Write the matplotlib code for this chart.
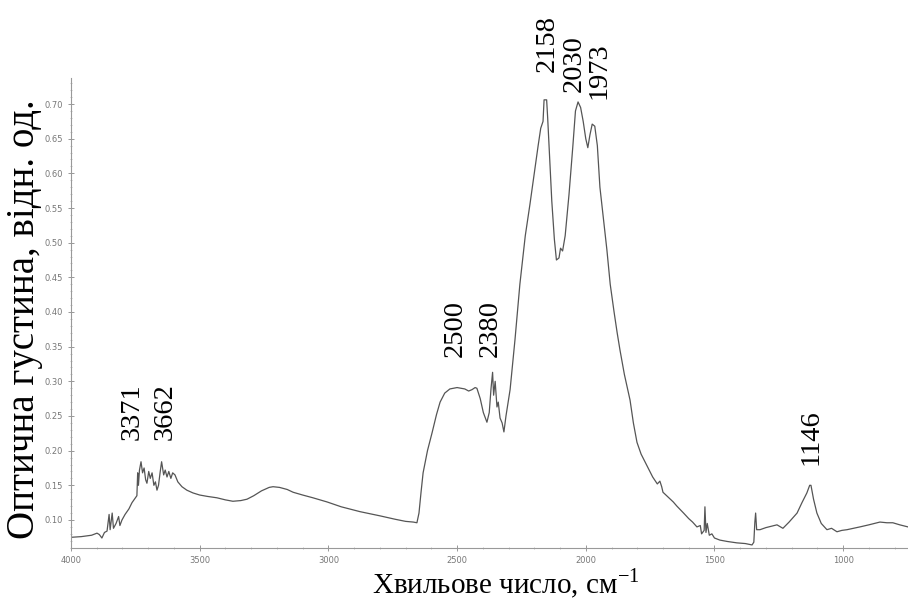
import matplotlib
matplotlib.use("Agg")
import matplotlib.pyplot as plt
from matplotlib.ticker import MultipleLocator, FormatStrFormatter

plt.rcParams["mathtext.fontset"] = "custom"
plt.rcParams["mathtext.rm"] = "Liberation Serif"

# IR spectrum
wavenumber = [
    4000, 3960, 3920, 3899, 3890, 3880, 3870, 3860, 3852, 3848, 3840, 3835,
    3825, 3815, 3810, 3802, 3790, 3775, 3763, 3750, 3744, 3741, 3738, 3734,
    3728, 3722, 3716, 3710, 3705, 3698, 3692, 3685, 3678, 3672, 3666, 3660,
    3654, 3648, 3640, 3634, 3627, 3620, 3612, 3605, 3596, 3585, 3569, 3550,
    3526, 3500, 3470, 3433, 3400, 3371, 3340, 3316, 3290, 3260, 3230, 3215,
    3190, 3160, 3137, 3100, 3060, 3005, 2950, 2877, 2800, 2740, 2700, 2670,
    2656, 2648, 2640, 2632, 2615, 2597, 2580, 2566, 2548, 2528, 2500, 2470,
    2455, 2442, 2430, 2423, 2410, 2398, 2384, 2375, 2368, 2362, 2358, 2352,
    2345, 2340, 2333, 2325, 2318, 2310, 2294, 2275, 2256, 2235, 2217, 2200,
    2185, 2175, 2166, 2162, 2152, 2148, 2140, 2132, 2122, 2114, 2104, 2098,
    2090, 2080, 2065, 2050, 2040, 2030, 2020, 2010, 2000, 1992, 1984, 1975,
    1965, 1955, 1945, 1930, 1918, 1905, 1890, 1878, 1867, 1850, 1828, 1815,
    1801, 1785, 1762, 1740, 1722, 1712, 1705, 1700, 1680, 1660, 1646, 1620, 1600,
    1585, 1568, 1555, 1550, 1540, 1537, 1533, 1528, 1520, 1510, 1500, 1479,
    1450, 1413, 1380, 1354, 1347, 1343, 1340, 1336, 1323, 1300, 1257, 1234,
    1210, 1179, 1160, 1141, 1130, 1125, 1115, 1102, 1085, 1063, 1045, 1024,
    1005, 985, 960, 935, 900, 857, 830, 807, 780, 748,
]
absorbance = [
    0.075, 0.076, 0.078, 0.081, 0.079, 0.074, 0.082, 0.084, 0.108, 0.086, 0.110, 0.088,
    0.095, 0.105, 0.092, 0.100, 0.108, 0.116, 0.125, 0.132, 0.135, 0.168, 0.150, 0.172,
    0.184, 0.168, 0.175, 0.158, 0.153, 0.170, 0.160, 0.168, 0.150, 0.155, 0.143, 0.150,
    0.168, 0.184, 0.165, 0.172, 0.162, 0.170, 0.160, 0.168, 0.165, 0.155, 0.148, 0.143,
    0.139, 0.136, 0.134, 0.132, 0.129, 0.127, 0.128, 0.130, 0.135, 0.142, 0.147, 0.148,
    0.147, 0.144, 0.140, 0.136, 0.132, 0.126, 0.119, 0.112, 0.106, 0.101, 0.098, 0.097,
    0.096, 0.110, 0.140, 0.168, 0.200, 0.226, 0.252, 0.270, 0.283, 0.289, 0.291, 0.289,
    0.286, 0.288, 0.291, 0.290, 0.275, 0.255, 0.241, 0.255, 0.290, 0.313, 0.280, 0.300,
    0.263, 0.270, 0.247, 0.240, 0.227, 0.250, 0.288, 0.360, 0.440, 0.510, 0.555, 0.600,
    0.640, 0.665, 0.675, 0.706, 0.706, 0.680, 0.620, 0.560, 0.505, 0.475, 0.478, 0.492,
    0.488, 0.510, 0.570, 0.640, 0.690, 0.703, 0.695, 0.675, 0.650, 0.637, 0.655, 0.671,
    0.668, 0.640, 0.580, 0.530, 0.490, 0.440, 0.400, 0.370, 0.345, 0.310, 0.273, 0.240,
    0.212, 0.195, 0.178, 0.162, 0.152, 0.156, 0.148, 0.140, 0.133, 0.126, 0.120, 0.110, 0.102,
    0.097, 0.090, 0.092, 0.080, 0.085, 0.119, 0.082, 0.095, 0.078, 0.080, 0.074, 0.071,
    0.069, 0.067, 0.066, 0.064, 0.068, 0.097, 0.110, 0.086, 0.086, 0.089, 0.093, 0.088,
    0.097, 0.110, 0.125, 0.139, 0.150, 0.150, 0.130, 0.110, 0.095, 0.086, 0.088, 0.083,
    0.085, 0.086, 0.088, 0.090, 0.093, 0.097, 0.096, 0.096, 0.093, 0.090,
]

peak_labels = ["3371", "3662", "2500", "2380", "2158", "2030", "1973", "1146"]
peak_pos = [(3763, 0.215), (3635, 0.215), (2508, 0.335), (2372, 0.335),
            (2151, 0.746), (2046, 0.717), (1948, 0.707), (1125, 0.179)]

fig = plt.figure(figsize=(9.08, 6.01), dpi=100)
ax = fig.add_axes([0.0782, 0.0882, 0.9218, 0.782])

ax.plot(wavenumber, absorbance, color="#555555", linewidth=0.9)

ax.set_xlim(4000, 748)
ax.set_ylim(0.0596, 0.7375)

ax.xaxis.set_major_locator(MultipleLocator(500))
ax.xaxis.set_minor_locator(MultipleLocator(100))
ax.yaxis.set_major_locator(MultipleLocator(0.05))
ax.yaxis.set_minor_locator(MultipleLocator(0.01))
ax.yaxis.set_major_formatter(FormatStrFormatter("%.2f"))
ax.xaxis.set_major_formatter(FormatStrFormatter("%d"))

ax.spines["top"].set_visible(False)
ax.spines["right"].set_visible(False)
for s in ["left", "bottom"]:
    ax.spines[s].set_color("#999999")
    ax.spines[s].set_linewidth(0.8)
ax.tick_params(which="major", direction="inout", length=4, width=0.6,
               color="#888888", labelsize=6, labelcolor="#777777")
ax.tick_params(which="minor", direction="inout", length=2, width=0.5, color="#aaaaaa")

for txt, (px, py) in zip(peak_labels, peak_pos):
    ax.text(px, py, txt, rotation=90, ha="center", va="bottom",
            fontfamily="Liberation Serif", fontsize=20.5, clip_on=False)

ax.set_xlabel(r"Хвильове число, см$^{\mathrm{-1}}$", fontfamily="Liberation Serif",
              fontsize=21)
ax.xaxis.set_label_coords(0.52, -0.04)
ax.set_ylabel("Оптична густина, відн. од.", fontfamily="Liberation Serif",
              fontsize=28)
ax.yaxis.set_label_coords(-0.033, 0.487)

fig.savefig("out.png", dpi=100)
